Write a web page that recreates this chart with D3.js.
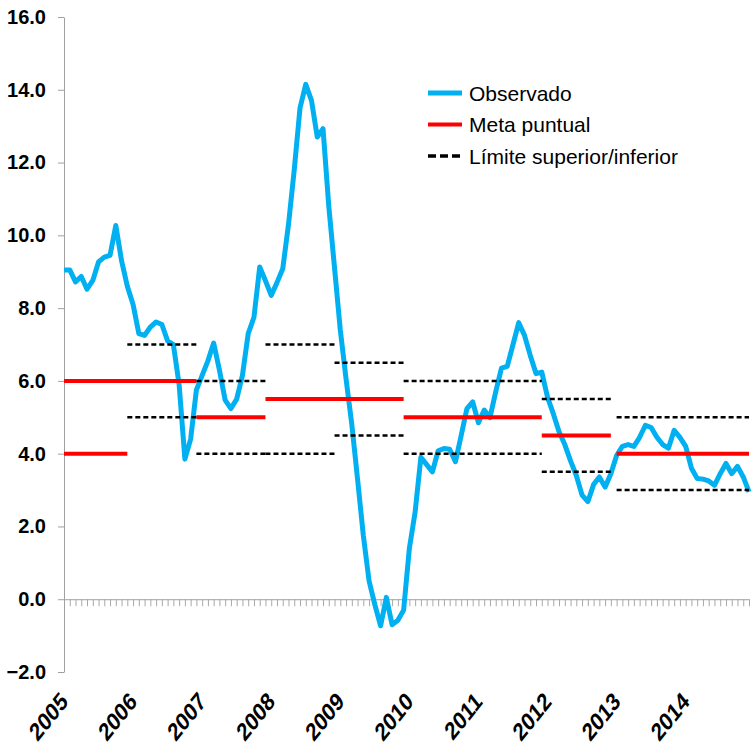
<!DOCTYPE html>
<html>
<head>
<meta charset="utf-8">
<script src="https://cdn.jsdelivr.net/npm/d3@7"></script>
<style>
  body { margin: 0; background: #fff; }
  svg { display: block; font-family: "Liberation Sans", Arial, sans-serif; }
</style>
</head>
<body>
<div id="chart"></div>
<script>
const years = ["2005", "2006", "2007", "2008", "2009", "2010", "2011", "2012", "2013", "2014"];

// monthly interannual inflation, Jan 2005 .. Dec 2014
const observado = [
  9.05, 9.05, 8.72, 8.87, 8.52, 8.76, 9.27, 9.40, 9.45, 10.27, 9.30, 8.60,
  8.10, 7.30, 7.25, 7.48, 7.62, 7.55, 7.10, 7.00, 5.90, 3.85, 4.40, 5.75,
  6.15, 6.55, 7.04, 6.30, 5.47, 5.24, 5.50, 6.15, 7.30, 7.75, 9.13, 8.75,
  8.35, 8.70, 9.08, 10.30, 11.80, 13.50, 14.15, 13.70, 12.70, 12.93, 10.80, 9.10,
  7.40, 6.05, 4.80, 3.30, 1.75, 0.50, -0.15, -0.73, 0.05, -0.70, -0.58, -0.30,
  1.40, 2.40, 3.90, 3.70, 3.50, 4.08, 4.14, 4.12, 3.78, 4.50, 5.24, 5.42,
  4.85, 5.20, 4.99, 5.70, 6.35, 6.40, 7.00, 7.60, 7.25, 6.70, 6.20, 6.24,
  5.55, 5.10, 4.60, 4.25, 3.80, 3.40, 2.86, 2.68, 3.15, 3.36, 3.08, 3.45,
  3.95, 4.20, 4.25, 4.20, 4.45, 4.78, 4.72, 4.45, 4.25, 4.15, 4.64, 4.45,
  4.20, 3.60, 3.32, 3.30, 3.25, 3.13, 3.45, 3.73, 3.45, 3.65, 3.36, 2.95
];

// point targets (month index from / to, value)
const metaFrom  = [0, 0, 23, 35, 59, 83, 96];
const metaTo    = [11, 23, 35, 59, 83, 95, 119];
const metaValue = [4.0, 6.0, 5.0, 5.5, 5.0, 4.5, 4.0];

// tolerance band
const limFrom  = [11, 23, 35, 47, 59, 83, 96];
const limTo    = [23, 35, 47, 59, 83, 95, 119];
const limUpper = [7.0, 6.0, 7.0, 6.5, 6.0, 5.5, 5.0];
const limLower = [5.0, 4.0, 4.0, 4.5, 4.0, 3.5, 3.0];

const yTicks = d3.range(-2, 17, 2);
const legendItems = ["Observado", "Meta puntual", "Límite superior/inferior"];

const width = 753, height = 749;
const svg = d3.select("#chart").append("svg")
  .attr("width", width)
  .attr("height", height);

const x = d3.scaleLinear().domain([0, observado.length - 1]).range([64, 749]);
const y = d3.scaleLinear().domain([-2, 16]).range([672, 17]);

// y axis
const yAxis = svg.append("g")
  .attr("transform", `translate(${x(0)},0)`)
  .call(d3.axisLeft(y).tickValues(yTicks).tickFormat(d3.format(".1f"))
    .tickSize(6).tickPadding(12).tickSizeOuter(0));
yAxis.select(".domain").attr("stroke", "#a0a0a0");
yAxis.selectAll(".tick line").attr("stroke", "#a0a0a0");
yAxis.selectAll(".tick text")
  .attr("fill", "#000")
  .style("font-size", "20px")
  .style("font-weight", "bold");

// x axis on zero line, one tick per month
const xAxis = svg.append("g")
  .attr("transform", `translate(0,${y(0)})`)
  .call(d3.axisBottom(x).tickValues(d3.range(1, observado.length))
    .tickSize(7).tickFormat("").tickSizeOuter(0));
xAxis.select(".domain").attr("stroke", "#a0a0a0");
xAxis.selectAll(".tick line").attr("stroke", "#a8a8a8");

// year labels
svg.append("g").selectAll("text")
  .data(years)
  .join("text")
  .attr("text-anchor", "end")
  .attr("transform", (d, i) => `translate(${x(i * 12) + 5},703) scale(1,1.25) rotate(-45)`)
  .style("font-size", "20px")
  .style("font-weight", "bold")
  .text(d => d);

// observed series
const line = d3.line()
  .x((d, i) => x(i))
  .y(d => y(d));

svg.append("path")
  .datum(observado)
  .attr("fill", "none")
  .attr("stroke", "#00b0f0")
  .attr("stroke-width", 5)
  .attr("stroke-linejoin", "round")
  .attr("d", line);

// targets
svg.append("g").selectAll("line")
  .data(metaValue)
  .join("line")
  .attr("x1", (d, i) => x(metaFrom[i]))
  .attr("x2", (d, i) => x(metaTo[i]))
  .attr("y1", d => y(d))
  .attr("y2", d => y(d))
  .attr("stroke", "#ff0000")
  .attr("stroke-width", 4);

const limits = svg.append("g")
  .attr("stroke", "#000")
  .attr("stroke-width", 2.5)
  .attr("stroke-dasharray", "5,3");
[limUpper, limLower].forEach(vals => {
  limits.append("g").selectAll("line")
    .data(vals)
    .join("line")
    .attr("x1", (d, i) => x(limFrom[i]))
    .attr("x2", (d, i) => x(limTo[i]))
    .attr("y1", d => y(d))
    .attr("y2", d => y(d));
});

// legend
const legend = svg.append("g").attr("transform", "translate(428,93)");
const rows = legend.selectAll("g")
  .data(legendItems)
  .join("g")
  .attr("transform", (d, i) => `translate(0,${i * 31.5})`);
rows.append("line")
  .attr("x1", 0).attr("x2", 34)
  .attr("stroke", (d, i) => ["#00b0f0", "#ff0000", "#000"][i])
  .attr("stroke-width", (d, i) => [5, 4, 3.5][i])
  .attr("stroke-dasharray", (d, i) => i === 2 ? "8,4" : null);
rows.append("text")
  .attr("x", 41)
  .attr("y", 7.5)
  .style("font-size", "21px")
  .text(d => d);
</script>
</body>
</html>
